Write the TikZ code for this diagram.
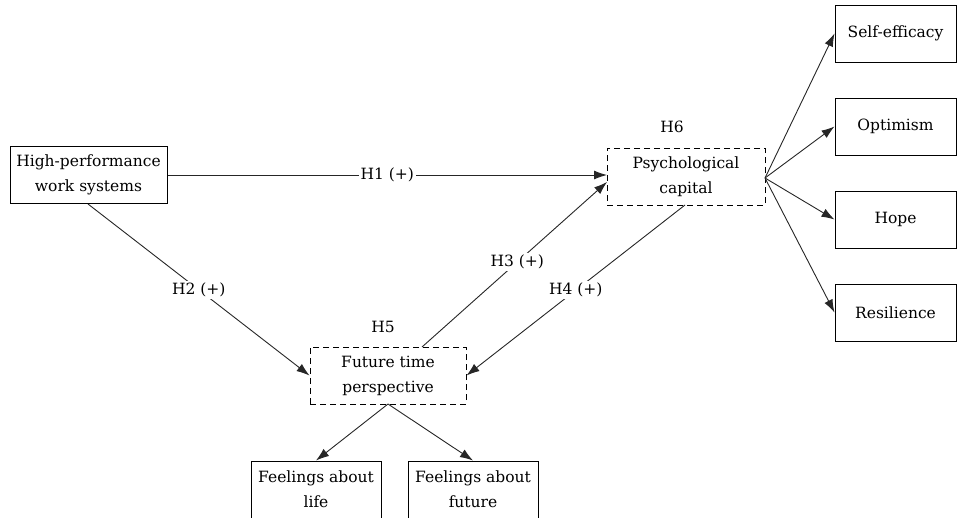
\documentclass[tikz,border=0pt]{standalone}
\usepackage{fontspec}
\setmainfont{DejaVu Serif}
\usetikzlibrary{arrows.meta}
\begin{document}
\begin{tikzpicture}[x=1pt,y=-1pt,
  every node/.style={font=\fontsize{15.5}{25}\selectfont, align=center, inner sep=0pt},
  box/.style={draw, line width=1pt, minimum width=#1, minimum height=57pt},
  dbox/.style={draw, line width=1pt, dash pattern=on 6pt off 4pt, minimum width=#1, minimum height=57pt},
  arr/.style={line width=0.9pt, draw=black!85, -{Latex[length=13pt,width=9pt]}},
  lbl/.style={fill=white, inner sep=2pt}]
\useasboundingbox (0,0) rectangle (957,517);
\node[box=157pt] (hpws) at (88.5,175) {High-performance\\work systems};
\node[dbox=158pt] (pc) at (686,176.5) {Psychological\\capital};
\node[dbox=156pt] (ftp) at (388,375.5) {Future time\\perspective};
\node[box=130pt] (fal) at (316,489.5) {Feelings about\\life};
\node[box=130pt] (faf) at (473,489.5) {Feelings about\\future};
\node[box=121pt] (se) at (895.5,33.5) {Self-efficacy};
\node[box=121pt] (op) at (895.5,126.5) {Optimism};
\node[box=121pt] (ho) at (895.5,219.5) {Hope};
\node[box=121pt] (re) at (895.5,312.5) {Resilience};
\node (h6) at (672,127) {H6};
\node (h5) at (383,327) {H5};
\coordinate (pcl) at (607,182);
\coordinate (pch) at (607,175);
\coordinate (pcr) at (765,178);
\coordinate (ftpt) at (422,347);
\coordinate (pcb) at (685,205);
\coordinate (hpb) at (88,204);
\coordinate (ftpb) at (388,404);
\draw[arr] (hpws.east) -- node[lbl] {H1 (+)} (pch);
\draw[arr] (hpb) -- node[lbl, pos=0.5] {H2 (+)} (ftp.west);
\draw[arr] (ftpt) -- node[lbl, pos=0.515] {H3 (+)} (pcl);
\draw[arr] (pcb) -- node[lbl, pos=0.5] {H4 (+)} (ftp.east);
\draw[arr] (pcr) -- (se.west);
\draw[arr] (pcr) -- (op.west);
\draw[arr] (pcr) -- (ho.west);
\draw[arr] (pcr) -- (re.west);
\draw[arr] (ftpb) -- (fal.north);
\draw[arr] (ftpb) -- (faf.north);
\end{tikzpicture}
\end{document}
